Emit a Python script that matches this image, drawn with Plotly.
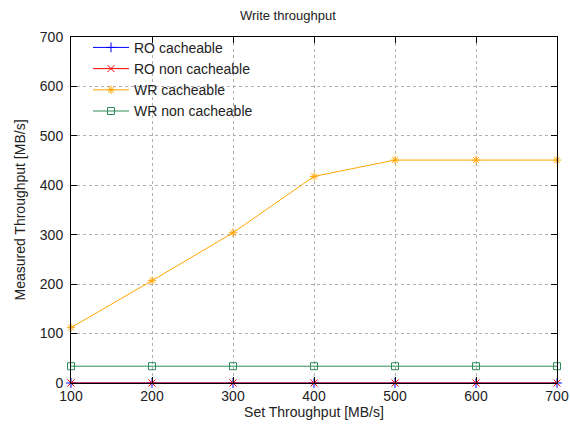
import plotly.graph_objects as go

set_tp = [100, 200, 300, 400, 500, 600, 700]
ro_cacheable = [0, 0, 0, 0, 0, 0, 0]
ro_non_cacheable = [0, 0, 0, 0, 0, 0, 0]
wr_cacheable = [112, 207, 304, 418, 451, 451, 451]
wr_non_cacheable = [34, 34, 34, 34, 34, 34, 34]

series = [
    ("RO cacheable", ro_cacheable, "#0000ff", "cross-thin"),
    ("RO non cacheable", ro_non_cacheable, "#ff0000", "x-thin"),
    ("WR cacheable", wr_cacheable, "#ffa500", "asterisk"),
    ("WR non cacheable", wr_non_cacheable, "#2e8b57", "square-open"),
]

fig = go.Figure()
for name, ys, color, sym in series:
    fig.add_trace(go.Scatter(
        x=set_tp, y=ys, name=name, mode="lines+markers",
        line=dict(color=color, width=1),
        marker=dict(symbol=sym, size=7, color=color, line=dict(color=color, width=1)),
        cliponaxis=False,
    ))

FAM = "Liberation Sans, Arial, sans-serif"
TXT = "#222"
fig.update_layout(
    width=570, height=428,
    margin=dict(l=71, r=13, t=37, b=45, autoexpand=False),
    paper_bgcolor="white", plot_bgcolor="white",
    font=dict(family=FAM, size=13, color=TXT),
    title=dict(text="Write throughput", x=0.505, xref="container", y=0.965, yref="container",
               xanchor="center", yanchor="middle", font=dict(family=FAM, size=13, color=TXT)),
    showlegend=True,
    legend=dict(x=0.035, y=1.015, xanchor="left", yanchor="top",
                bgcolor="rgba(255,255,255,0)", font=dict(family=FAM, size=14, color=TXT),
                tracegroupgap=0, itemwidth=36),
)
axis_common = dict(
    showline=True, linecolor="black", linewidth=1, mirror="allticks",
    ticks="inside", ticklen=6, tickcolor="black",
    showgrid=True, gridcolor="#b0b0b0", griddash="dot", gridwidth=1,
    zeroline=False, tickfont=dict(family=FAM, size=14, color=TXT), automargin=False,
)
fig.update_xaxes(range=[100, 700], dtick=100, tick0=100,
                 title=dict(text="Set Throughput [MB/s]", standoff=2,
                            font=dict(family=FAM, size=14, color=TXT)), **axis_common)
fig.update_yaxes(range=[0, 700], dtick=100, tick0=0, ticklabelstandoff=4,
                 title=dict(text="Measured Throughput [MB/s]", standoff=10,
                            font=dict(family=FAM, size=14, color=TXT)), **axis_common)

fig.write_html("out.html")
